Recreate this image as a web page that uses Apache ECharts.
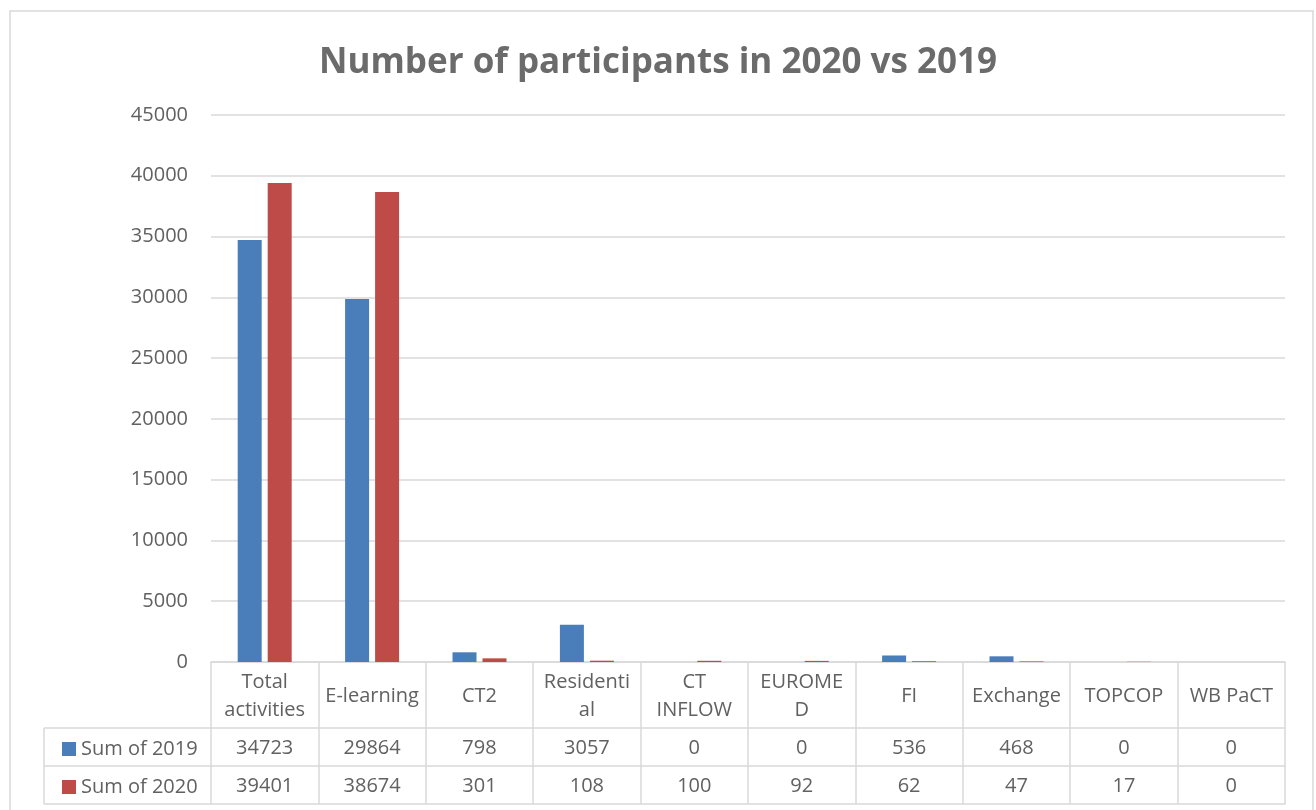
<!DOCTYPE html>
<html><head><meta charset="utf-8">
<script src="https://cdn.jsdelivr.net/npm/echarts@6/dist/echarts.min.js"></script>
<style>html,body{margin:0;padding:0;background:#fff;}#c{width:1316px;height:810px;}</style>
</head><body><div id="c"></div>
<script>
var categories = ['Total\nactivities','E-learning','CT2','Residenti\nal','CT\nINFLOW','EUROME\nD','FI','Exchange','TOPCOP','WB PaCT'];
var seriesNames = ['Sum of 2019','Sum of 2020'];
var values2019 = [34723,29864,798,3057,0,0,536,468,0,0];
var values2020 = [39401,38674,301,108,100,92,62,47,17,0];
var yTicks = {min:0, max:45000, interval:5000};
var titleText = 'Number of participants in 2020 vs 2019';

var FONT = 'Open Sans';
var TXT = '#616161';
var LINE = '#d9d9d9';
var FS = 20;
var chart = echarts.init(document.getElementById('c'));
function tableAxis(data, offset, tickLen, margin, showLabel){
  return {
    type:'category', data:data, position:'bottom', offset:offset, gridIndex:0,
    axisLine:{show:true, lineStyle:{color:LINE, width:1.5}},
    axisTick:{show:tickLen>0, length:tickLen, alignWithLabel:false, lineStyle:{color:LINE, width:1.5}},
    axisLabel:{show:showLabel, margin:margin, verticalAlign:'middle', fontSize:FS, color:TXT, fontFamily:FONT, lineHeight:28, interval:0},
    splitLine:{show:false}
  };
}
chart.setOption({
  animation:false,
  backgroundColor:'#fff',
  title:{text:titleText, left:'center', top:41, textStyle:{fontSize:35, fontWeight:'bold', color:'#6b6b6b', fontFamily:FONT}},
  legend:{
    orient:'vertical', left:57, top:734, itemWidth:14, itemHeight:14, itemGap:18,
    icon:'rect', selectedMode:false,
    textStyle:{fontSize:FS, color:TXT, fontFamily:FONT, lineHeight:20, padding:[0,0,0,0]},
    data:seriesNames
  },
  grid:{left:211, right:31, top:115, bottom:148},
  xAxis:[
    tableAxis(categories, 0, 66, 34, true),
    tableAxis(values2019.map(String), 66, 38, 20, true),
    tableAxis(values2020.map(String), 104, 38, 20, true),
    tableAxis(categories, 142, 0, 0, false)
  ],
  yAxis:{
    type:'value', min:yTicks.min, max:yTicks.max, interval:yTicks.interval,
    axisLine:{show:false}, axisTick:{show:false},
    axisLabel:{fontSize:FS, color:TXT, fontFamily:FONT, margin:23, formatter:function(v){return String(v);}},
    splitLine:{lineStyle:{color:LINE, width:1.5}}
  },
  series:[
    {name:seriesNames[0], type:'bar', data:values2019, xAxisIndex:0, barWidth:24, barGap:'25%', itemStyle:{color:'#4A7EBB'}},
    {name:seriesNames[1], type:'bar', data:values2020, xAxisIndex:0, barWidth:24, itemStyle:{color:'#BE4B48'}}
  ],
  graphic:[
    {type:'rect', shape:{x:10, y:11, width:1303, height:820}, style:{fill:'none', stroke:'#d9d9d9', lineWidth:1.5}, silent:true},
    {type:'line', shape:{x1:44, y1:728, x2:211, y2:728}, style:{stroke:LINE, lineWidth:1.5}},
    {type:'line', shape:{x1:44, y1:766, x2:211, y2:766}, style:{stroke:LINE, lineWidth:1.5}},
    {type:'line', shape:{x1:44, y1:804, x2:211, y2:804}, style:{stroke:LINE, lineWidth:1.5}},
    {type:'line', shape:{x1:44, y1:728, x2:44, y2:804}, style:{stroke:LINE, lineWidth:1.5}}
  ]
});
</script></body></html>
